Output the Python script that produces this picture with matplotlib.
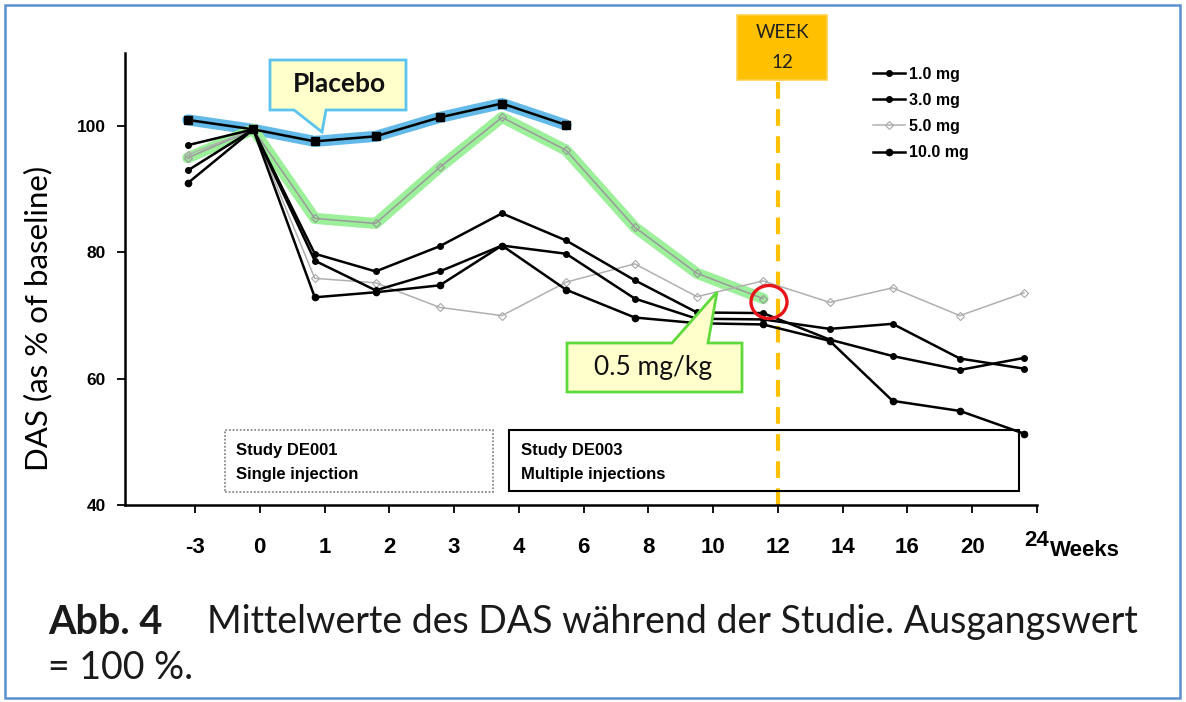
import matplotlib
matplotlib.use("Agg")
import matplotlib.pyplot as plt
from matplotlib.patches import Polygon, Rectangle, Ellipse
from matplotlib.lines import Line2D

# ---------------- data ----------------
x_labels = ["-3", "0", "1", "2", "3", "4", "6", "8", "10", "12", "14", "16", "20", "24"]
visit_x = [-0.11, 0.90, 1.85, 2.79, 3.78, 4.74, 5.73, 6.79, 7.75, 8.77, 9.80, 10.77, 11.81, 12.80]

placebo = [101.0, 99.5, 97.6, 98.4, 101.4, 103.6, 100.2]
mgkg_05 = [95.0, 99.5, 85.4, 84.6, 93.5, 101.4, 96.2, 84.0, 76.7, 72.7]
dose_1 = [97.0, 99.5, 78.7, 74.0, 77.0, 81.1, 79.8, 72.7, 69.5, 69.4, 67.9, 68.7, 63.2, 61.6]
dose_3 = [93.0, 99.5, 79.8, 77.0, 81.0, 86.2, 81.9, 75.6, 70.5, 70.4, 66.2, 63.6, 61.4, 63.3]
dose_5 = [95.5, 99.5, 75.9, 75.2, 71.3, 70.0, 75.3, 78.2, 73.0, 75.5, 72.1, 74.4, 70.0, 73.6]
dose_10 = [91.0, 99.5, 72.9, 73.7, 74.8, 81.1, 74.1, 69.7, 68.8, 68.6, 66.0, 56.5, 54.9, 51.3]
legend_labels = ["1.0 mg", "3.0 mg", "5.0 mg", "10.0 mg"]
y_ticks = [40, 60, 80, 100]

# ---------------- figure ----------------
W, H = 1186, 702
fig = plt.figure(figsize=(W / 100, H / 100), dpi=100)
fig.patch.set_facecolor("white")


def fx(x):
    return x / W


def fy(y):
    return 1 - y / H


ax = fig.add_axes([fx(125), fy(505), (1037 - 125) / W, (505 - 53) / H])
ax.set_xlim(-1.08, 13.0)
ax.set_ylim(40, 111.6)

# highlights
ax.plot(visit_x[:len(placebo)], placebo, color="#63B9E8", lw=8,
        solid_capstyle="round", solid_joinstyle="round", zorder=1)
ax.plot(visit_x[:len(mgkg_05)], mgkg_05, color="#9DF09A", lw=8,
        solid_capstyle="round", solid_joinstyle="round", zorder=1)

# series
gray = "#9A9A9A"
ax.plot(visit_x[:len(mgkg_05)], mgkg_05, color=gray, lw=1.1, marker="D", ms=4,
        mfc="none", mec=gray, mew=0.8, zorder=3)
l5, = ax.plot(visit_x, dose_5, color="#B0B0B0", lw=1.1, marker="D", ms=4,
              mfc="none", mec="#A8A8A8", mew=0.8, zorder=3)
l1, = ax.plot(visit_x, dose_1, color="black", lw=1.8, marker="o", ms=4, zorder=4)
l3, = ax.plot(visit_x, dose_3, color="black", lw=1.8, marker="o", ms=4, zorder=4)
l10, = ax.plot(visit_x, dose_10, color="black", lw=1.8, marker="o", ms=4.5, zorder=4)
ax.plot(visit_x[:len(placebo)], placebo, color="black", lw=1.8, marker="s", ms=5.5, zorder=5)

# axes styling
for s in ["top", "right"]:
    ax.spines[s].set_visible(False)
for s in ["left", "bottom"]:
    ax.spines[s].set_linewidth(1.8)
ax.set_xticks(range(len(x_labels)))
ax.set_xticklabels(x_labels[:-1] + [""])
ax.set_yticks(y_ticks)
ax.set_yticklabels([str(v) for v in y_ticks])
ax.tick_params(axis="x", direction="out", length=6, width=1.3, pad=17)
ax.tick_params(axis="y", direction="out", length=6, width=1.3, pad=8)
for lab in ax.get_xticklabels():
    lab.set_fontfamily("Liberation Sans")
    lab.set_fontweight("bold")
    lab.set_fontsize(16)
for lab in ax.get_yticklabels():
    lab.set_fontfamily("Liberation Sans")
    lab.set_fontweight("bold")
    lab.set_fontsize(12.5)

# last tick label '24' raised, plus 'Weeks'
fig.text(fx(1037), fy(540), x_labels[-1], ha="center", va="center",
         fontsize=16, fontweight="bold", family="Liberation Sans")
fig.text(fx(1050), fy(551), "Weeks", ha="left", va="center",
         fontsize=16, fontweight="bold", family="Liberation Sans")

# y label
fig.text(fx(38), fy(318), "DAS (as % of baseline)", rotation=90, ha="center",
         va="center", fontsize=22.5, family="Lato")

# legend
leg = ax.legend(handles=[l1, l3, l5, l10], labels=legend_labels, loc="upper left",
                bbox_to_anchor=(0.82, 0.970), frameon=False, handlelength=2.0,
                handletextpad=0.25, labelspacing=0.70, borderpad=0, borderaxespad=0,
                numpoints=1, prop={"family": "Liberation Sans", "weight": "bold", "size": 11.5})

# week 12 dashed line + box
wk = x_labels.index("12")
ax.axvline(wk, ymin=0, ymax=(505 - 82) / (505 - 53), color="#FFC000", lw=3,
           dashes=(4, 2.5), zorder=2)
fig.patches.append(Rectangle((fx(737), fy(80)), (827 - 737) / W, (80 - 15) / H,
                             transform=fig.transFigure, facecolor="#FFC000",
                             edgecolor="#FFD24D", lw=1.2))
fig.text(fx(782), fy(33), "WEEK", ha="center", va="center", fontsize=13.5,
         family="Lato", color="#222222")
fig.text(fx(782), fy(62), "12", ha="center", va="center", fontsize=13.5,
         family="Lato", color="#222222")

# red circle
fig.patches.append(Ellipse((fx(769), fy(302)), 36 / W, 33 / H, transform=fig.transFigure,
                           facecolor="none", edgecolor="#E8141B", lw=2.4, zorder=10))

# Placebo callout
pts = [(270, 60), (406, 60), (406, 110), (326, 110), (322, 132), (294, 110), (270, 110)]
fig.patches.append(Polygon([(fx(x), fy(y)) for x, y in pts], closed=True,
                           transform=fig.transFigure, facecolor="#FFFFCC",
                           edgecolor="#5BC3EE", lw=2, zorder=10))
fig.text(fx(339), fy(84), "Placebo", ha="center", va="center", fontsize=19,
         fontweight="bold", family="Lato", color="#111111", zorder=11)

# 0.5 mg/kg callout
pts = [(567, 343), (672, 343), (717, 292), (708, 343), (742, 343), (742, 392), (567, 392)]
fig.patches.append(Polygon([(fx(x), fy(y)) for x, y in pts], closed=True,
                           transform=fig.transFigure, facecolor="#FFFFCC",
                           edgecolor="#5FD93C", lw=2, zorder=10))
fig.text(fx(653), fy(368), "0.5 mg/kg", ha="center", va="center", fontsize=19,
         family="Lato", color="#111111", zorder=11)

# study boxes
fig.patches.append(Rectangle((fx(225), fy(492)), (493 - 225) / W, (492 - 430) / H,
                             transform=fig.transFigure, facecolor="none",
                             edgecolor="#8A8A8A", lw=1.3, linestyle=(0, (1, 1))))
fig.text(fx(236), fy(450), "Study DE001", ha="left", va="center", fontsize=12,
         fontweight="bold", family="Liberation Sans")
fig.text(fx(236), fy(475), "Single injection", ha="left", va="center", fontsize=12,
         fontweight="bold", family="Liberation Sans")
fig.patches.append(Rectangle((fx(509), fy(491)), (1019 - 509) / W, (491 - 430) / H,
                             transform=fig.transFigure, facecolor="none",
                             edgecolor="black", lw=1.5))
fig.text(fx(521), fy(450), "Study DE003", ha="left", va="center", fontsize=12,
         fontweight="bold", family="Liberation Sans")
fig.text(fx(521), fy(475), "Multiple injections", ha="left", va="center", fontsize=12,
         fontweight="bold", family="Liberation Sans")

# caption
fig.text(fx(48), fy(622), "Abb. 4", ha="left", va="center", fontsize=28.5,
         fontweight="bold", family="Lato", color="#1a1a1a")
fig.text(fx(207), fy(622), "Mittelwerte des DAS während der Studie. Ausgangswert",
         ha="left", va="center", fontsize=27, family="Lato", color="#1a1a1a")
fig.text(fx(48), fy(668), "= 100 %.", ha="left", va="center", fontsize=27,
         family="Lato", color="#1a1a1a")

# outer frame
fig.patches.append(Rectangle((fx(5), fy(698)), (1180 - 5) / W, (698 - 5) / H,
                             transform=fig.transFigure, facecolor="none",
                             edgecolor="#5B8FD0", lw=1.8))

fig.savefig("out.png", dpi=100, facecolor="white")
